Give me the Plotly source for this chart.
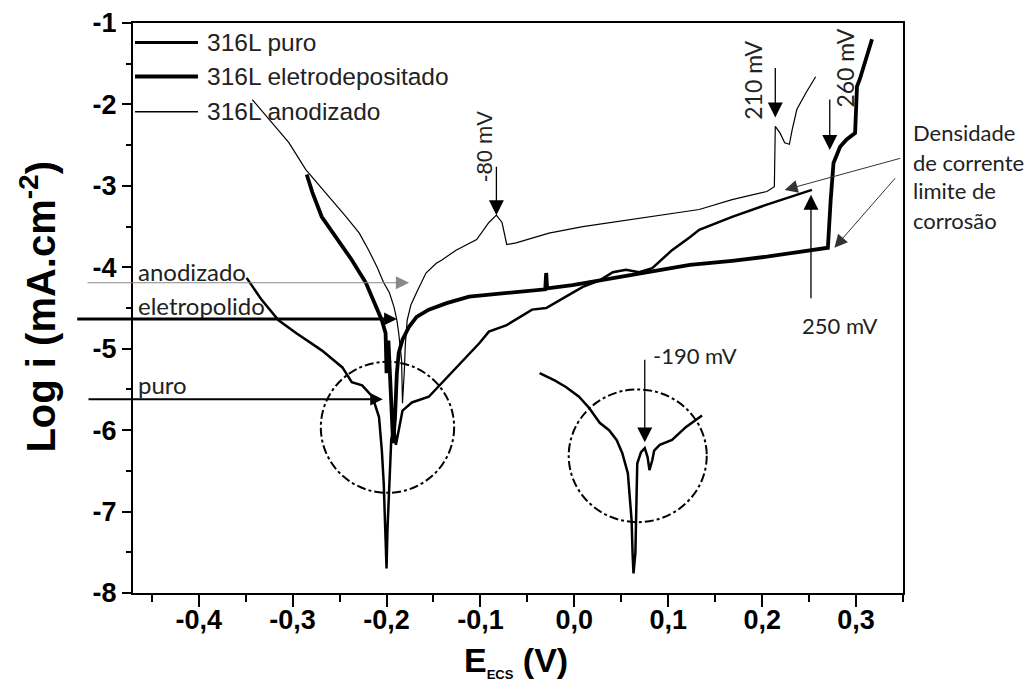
import plotly.graph_objects as go

# ---------------- data (E in V, log i) ----------------
puro_x = [-0.349, -0.333, -0.315, -0.296, -0.269, -0.247, -0.237, -0.226, -0.215, -0.208,
          -0.205, -0.203, -0.201, -0.200, -0.199, -0.197, -0.195, -0.192, -0.190, -0.187,
          -0.183, -0.179, -0.173, -0.155, -0.141, -0.119, -0.101, -0.091, -0.072, -0.045,
          -0.030, -0.009, 0.009, 0.027, 0.041, 0.055, 0.069, 0.083, 0.104, 0.123,
          0.133, 0.168, 0.205, 0.253]
puro_y = [-4.13, -4.40, -4.65, -4.81, -5.02, -5.23, -5.41, -5.45, -5.59, -5.84,
          -6.25, -6.65, -7.35, -7.70, -7.22, -6.61, -6.12, -5.94, -6.18, -6.00,
          -5.76, -5.72, -5.66, -5.59, -5.42, -5.14, -4.93, -4.79, -4.71, -4.52,
          -4.50, -4.36, -4.24, -4.16, -4.06, -4.03, -4.06, -4.01, -3.79, -3.63,
          -3.54, -3.38, -3.23, -3.05]

eletro_x = [-0.285, -0.279, -0.269, -0.254, -0.237, -0.222, -0.211, -0.205, -0.201, -0.200,
            -0.198, -0.196, -0.194, -0.193, -0.191, -0.189, -0.187, -0.183, -0.176, -0.168,
            -0.155, -0.136, -0.112, -0.072, -0.037, -0.031, -0.030, -0.029, -0.002, 0.027,
            0.069, 0.123, 0.168, 0.205, 0.240, 0.270, 0.273, 0.276, 0.283, 0.290,
            0.299, 0.301, 0.304, 0.317]
eletro_y = [-2.86, -3.08, -3.38, -3.63, -3.91, -4.19, -4.49, -4.65, -4.81, -5.30,
            -4.90, -5.40, -5.85, -6.16, -5.85, -5.30, -5.05, -4.89, -4.73, -4.61,
            -4.52, -4.44, -4.36, -4.31, -4.27, -4.27, -4.07, -4.26, -4.22, -4.16,
            -4.07, -3.97, -3.92, -3.87, -3.81, -3.76, -3.17, -2.72, -2.52, -2.43,
            -2.35, -1.78, -1.69, -1.20]

anod_x = [-0.343, -0.325, -0.304, -0.286, -0.272, -0.258, -0.243, -0.229, -0.219, -0.210,
          -0.203, -0.197, -0.192, -0.189, -0.187, -0.184, -0.183, -0.181, -0.180, -0.178,
          -0.174, -0.168, -0.158, -0.147, -0.141, -0.126, -0.104, -0.091, -0.083, -0.077,
          -0.072, -0.062, -0.027, 0.009, 0.045, 0.080, 0.133, 0.168, 0.205, 0.213,
          0.214, 0.219, 0.224, 0.229, 0.232, 0.237, 0.247, 0.257]
anod_y = [-1.94, -2.19, -2.47, -2.80, -2.99, -3.17, -3.38, -3.58, -3.79, -4.00,
          -4.19, -4.31, -4.49, -4.65, -4.81, -5.14, -5.67, -5.26, -4.95, -4.65,
          -4.46, -4.31, -4.07, -3.95, -3.91, -3.79, -3.66, -3.45, -3.36, -3.45,
          -3.72, -3.70, -3.58, -3.50, -3.44, -3.38, -3.29, -3.17, -3.07, -3.01,
          -2.27, -2.35, -2.47, -2.49, -2.31, -2.06, -1.85, -1.66]

# magnified view of the corrosion-potential region (drawn inside the plot)
inset_x = [-0.037, -0.021, -0.009, 0.005, 0.016, 0.027, 0.037, 0.045, 0.051, 0.057,
           0.059, 0.061, 0.062, 0.063, 0.065, 0.066, 0.067, 0.071, 0.075, 0.078,
           0.080, 0.083, 0.085, 0.091, 0.104, 0.119, 0.136]
inset_y = [-5.30, -5.39, -5.47, -5.59, -5.73, -5.91, -6.00, -6.12, -6.28, -6.53,
           -6.82, -7.11, -7.51, -7.76, -7.51, -6.70, -6.41, -6.27, -6.22, -6.33,
           -6.49, -6.37, -6.25, -6.18, -6.12, -5.96, -5.82]

series_names = ["316L puro", "316L eletrodepositado", "316L anodizado"]

x_tickvals = [-0.4, -0.3, -0.2, -0.1, 0.0, 0.1, 0.2, 0.3]
x_ticktext = ["-0,4", "-0,3", "-0,2", "-0,1", "0,0", "0,1", "0,2", "0,3"]
y_tickvals = [-1, -2, -3, -4, -5, -6, -7, -8]
y_ticktext = ["-1", "-2", "-3", "-4", "-5", "-6", "-7", "-8"]

# ---------------- figure ----------------
fig = go.Figure()
fig.add_trace(go.Scatter(x=puro_x, y=puro_y, mode="lines", name=series_names[0],
                         line=dict(color="black", width=2.5), showlegend=False))
fig.add_trace(go.Scatter(x=eletro_x, y=eletro_y, mode="lines", name=series_names[1],
                         line=dict(color="black", width=3.8), showlegend=False))
fig.add_trace(go.Scatter(x=anod_x, y=anod_y, mode="lines", name=series_names[2],
                         line=dict(color="black", width=1.2), showlegend=False))
fig.add_trace(go.Scatter(x=inset_x, y=inset_y, mode="lines", name="detalhe",
                         line=dict(color="black", width=2.5), showlegend=False))

shapes = []
shapes.append(dict(type="circle", xref="x", yref="y", x0=-0.270, x1=-0.128, y0=-5.16, y1=-6.77,
                   line=dict(color="black", width=2, dash="dashdot")))
shapes.append(dict(type="circle", xref="x", yref="y", x0=-0.006, x1=0.141, y0=-5.50, y1=-7.13,
                   line=dict(color="black", width=2, dash="dashdot")))

arial = "Liberation Sans, Arial"
calib = "Lato, Noto Sans, sans-serif"

# manual legend
leg_y = [0.9657, 0.906, 0.8445]
leg_w = [3, 4, 1.5]
ann = []
for name, yy, w in zip(series_names, leg_y, leg_w):
    shapes.append(dict(type="line", xref="paper", yref="paper", x0=0.0026, x1=0.0844, y0=yy, y1=yy,
                       line=dict(color="black", width=w)))
    ann.append(dict(xref="paper", yref="paper", x=0.0935, y=yy, text=name, showarrow=False,
                    xanchor="left", yanchor="middle",
                    font=dict(family=arial, size=24.5, color="#222")))


def arrow(x, y, ax, ay, width=1.3, color="black", size=2.3, axref="pixel"):
    d = dict(x=x, y=y, ax=ax, ay=ay, xref="x", yref="y", showarrow=True, text="",
             arrowhead=2, arrowsize=size, arrowwidth=width, arrowcolor=color, standoff=0)
    if axref == "data":
        d.update(axref="x", ayref="y")
    return d


def label(x, y, text, font=calib, size=23, angle=0, xanchor="center", xref="x"):
    return dict(x=x, y=y, xref=xref, yref="y", text=text, showarrow=False, textangle=angle,
                xanchor=xanchor, yanchor="middle", font=dict(family=font, size=size, color="#222"))

# peak / breakdown annotations
ann.append(label(-0.095, -2.52, "-80 mV", font=arial, size=22, angle=-90))
ann.append(arrow(-0.083, -3.36, 0, -50))
ann.append(label(0.190, -1.70, "210 mV", size=23, angle=-90))
ann.append(arrow(0.214, -2.16, 0, -51))
ann.append(label(0.288, -1.55, "260 mV", size=23, angle=-90))
ann.append(arrow(0.272, -2.56, 0, -52))
ann.append(label(0.283, -4.71, "250 mV", size=22))
ann.append(arrow(0.252, -3.11, 0, 105))
ann.append(label(0.082, -5.08, "-190 mV", size=22, xanchor="left"))
ann.append(arrow(0.075, -6.15, 0, -84))

# "Densidade de corrente limite de corrosão" (right of the plot, paper coords)
for txt, yy in zip(["Densidade", "de corrente", "limite de", "corrosão"], [-2.35, -2.71, -3.06, -3.42]):
    ann.append(label(1.011, yy, txt, size=22, xanchor="left", xref="paper"))
ann.append(arrow(0.224, -3.05, 117, -32, width=1, color="#333", size=2.6))
ann.append(arrow(0.277, -3.76, 62, -71, width=1, color="#333", size=2.6))

# left-hand labels with horizontal arrows
ann.append(label(-0.467, -4.05, "anodizado", size=24, xanchor="left"))
ann.append(label(-0.467, -4.47, "eletropolido", size=24, xanchor="left"))
ann.append(label(-0.467, -5.44, "puro", size=24, xanchor="left"))
ann.append(arrow(-0.176, -4.19, -0.520, -4.19, width=1.2, color="#888", size=2.2, axref="data"))
ann.append(arrow(-0.189, -4.635, -0.531, -4.635, width=3, color="black", size=0.85, axref="data"))
ann.append(arrow(-0.204, -5.62, -0.519, -5.62, width=2, color="black", size=1.25, axref="data"))

# axis titles
ann.append(dict(xref="paper", yref="paper", x=-0.123, y=0.503, text="Log i (mA.cm<sup>-2</sup>)",
                showarrow=False, textangle=-90, xanchor="center", yanchor="middle",
                font=dict(family=arial, size=40, color="black", weight="bold")))
ann.append(dict(xref="paper", yref="paper", x=0.497, y=-0.12,
                text="E<sub><span style='font-size:13px'>ECS</span></sub> (V)",
                showarrow=False, xanchor="center", yanchor="middle",
                font=dict(family=arial, size=34, color="black", weight="bold")))

fig.update_layout(
    width=1027, height=690,
    margin=dict(l=125, r=132, t=15, b=105, autoexpand=False),
    paper_bgcolor="white", plot_bgcolor="white",
    shapes=shapes, annotations=ann, showlegend=False,
)
tickfont = dict(family=arial, size=27, color="black", weight="bold")
fig.update_xaxes(range=[-0.47, 0.35], showgrid=False, zeroline=False, automargin=False,
                 showline=True, linecolor="black", linewidth=2, mirror=True,
                 ticks="outside", ticklen=12, tickwidth=2, tickcolor="black",
                 tickvals=x_tickvals, ticktext=x_ticktext, tickfont=tickfont,
                 ticklabelstandoff=-10,
                 minor=dict(dtick=0.05, tick0=0, ticks="outside", ticklen=7, tickwidth=2, tickcolor="black"))
fig.update_yaxes(range=[-8, -1], showgrid=False, zeroline=False, automargin=False,
                 showline=True, linecolor="black", linewidth=2, mirror=True,
                 ticks="outside", ticklen=9, tickwidth=2, tickcolor="black",
                 tickvals=y_tickvals, ticktext=y_ticktext, tickfont=tickfont,
                 minor=dict(dtick=0.5, tick0=0, ticks="outside", ticklen=5, tickwidth=2, tickcolor="black"))

fig.write_html("out.html")
